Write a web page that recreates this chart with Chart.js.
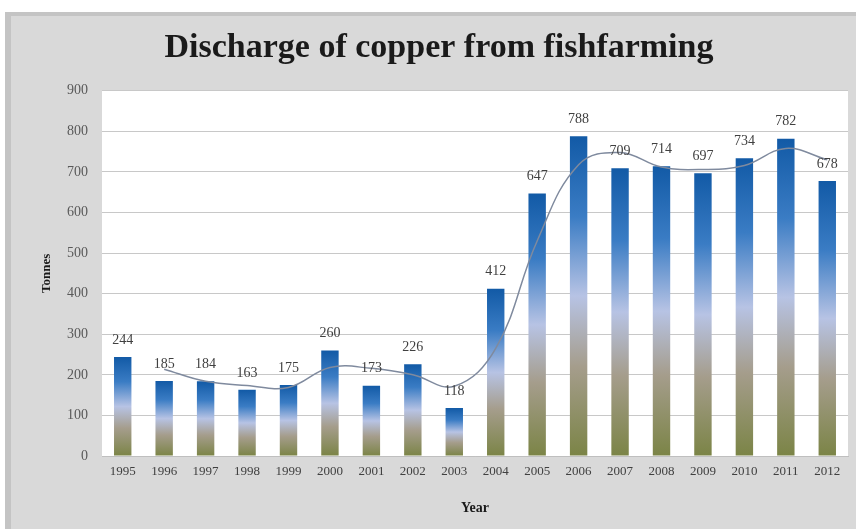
<!DOCTYPE html>
<html>
<head>
<meta charset="utf-8">
<script src="https://cdn.jsdelivr.net/npm/chart.js@4/dist/chart.umd.min.js"></script>
<style>
    html, body { margin: 0; padding: 0; background: #ffffff; }
    #wrap { width: 856px; height: 529px; position: relative; }
</style>
</head>
<body>
<div id="wrap"><canvas id="copperChart" width="856" height="529"></canvas></div>
<script>
// Data
const years = ['1995', '1996', '1997', '1998', '1999', '2000', '2001', '2002', '2003',
    '2004', '2005', '2006', '2007', '2008', '2009', '2010', '2011', '2012'];
const tonnes = [244, 185, 184, 163, 175, 260, 173, 226, 118,
    412, 647, 788, 709, 714, 697, 734, 782, 678];
// trend line (2 period moving average as drawn in the picture)
const trend = [null, 214, 184, 174, 169, 218, 216, 200, 172,
    265, 530, 718, 748, 712, 706, 716, 758, 730];

const serif = "'Liberation Serif', 'DejaVu Serif', serif";

// Background frame + white plot area
const framePlugin = {
    id: 'frame',
    beforeDraw(chart) {
        const ctx = chart.ctx;
        const a = chart.chartArea;
        ctx.save();
        ctx.fillStyle = '#ffffff';
        ctx.fillRect(0, 0, chart.width, chart.height);
        ctx.fillStyle = '#d9d9d9';
        ctx.fillRect(5, 12, chart.width - 5, chart.height - 12);
        ctx.fillStyle = '#c4c4c4';
        ctx.fillRect(5, 12, 6, chart.height - 12);
        ctx.fillRect(5, 12, chart.width - 5, 4);
        ctx.fillStyle = '#ffffff';
        ctx.fillRect(a.left, a.top, a.right - a.left, a.bottom - a.top);
        ctx.restore();
    }
};

// Value labels above each bar
const valueLabels = {
    id: 'valueLabels',
    afterDatasetsDraw(chart) {
        const ctx = chart.ctx;
        const meta = chart.getDatasetMeta(0);
        ctx.save();
        ctx.font = '14px ' + serif;
        ctx.fillStyle = '#404040';
        ctx.textAlign = 'center';
        ctx.textBaseline = 'bottom';
        meta.data.forEach((bar, i) => {
            ctx.fillText(tonnes[i], bar.x, bar.y - 10);
        });
        ctx.restore();
    }
};

function barGradient(context) {
    const chart = context.chart;
    if (!chart.chartArea) return '#1f63ab';
    const yScale = chart.scales.y;
    const v = context.raw;
    const top = yScale.getPixelForValue(v);
    const bottom = yScale.getPixelForValue(0);
    const g = chart.ctx.createLinearGradient(0, top, 0, bottom);
    g.addColorStop(0, '#125aa6');
    g.addColorStop(0.25, '#3a7cc4');
    g.addColorStop(0.5, '#b7c3e4');
    g.addColorStop(0.72, '#a59d8c');
    g.addColorStop(1, '#7b8446');
    return g;
}

const ctx = document.getElementById('copperChart').getContext('2d');
const chart = new Chart(ctx, {
    type: 'bar',
    data: {
        labels: years,
        datasets: [
            {
                label: 'Tonnes',
                data: tonnes,
                backgroundColor: barGradient,
                borderWidth: 0,
                barPercentage: 0.42,
                categoryPercentage: 1.0,
                order: 2
            },
            {
                type: 'line',
                label: 'Trend',
                data: trend,
                borderColor: '#7f8a9e',
                borderWidth: 1.5,
                tension: 0.4,
                pointRadius: 0,
                fill: false,
                order: 1
            }
        ]
    },
    options: {
        responsive: false,
        animation: false,
        layout: {
            padding: { left: 30, right: 8, top: 0, bottom: 8 }
        },
        plugins: {
            legend: { display: false },
            tooltip: { enabled: false },
            title: {
                display: true,
                text: 'Discharge of copper from fishfarming',
                color: '#1a1a1a',
                font: { family: serif, size: 34, weight: 'bold' },
                padding: { top: 28, bottom: 22 }
            }
        },
        scales: {
            y: {
                min: 0,
                max: 900,
                ticks: {
                    stepSize: 100,
                    color: '#595959',
                    font: { family: serif, size: 14 },
                    padding: 14
                },
                grid: {
                    color: '#c8c8c8',
                    drawTicks: false
                },
                border: { display: false },
                title: {
                    display: true,
                    text: 'Tonnes',
                    color: '#1a1a1a',
                    font: { family: serif, size: 13, weight: 'bold' },
                    padding: { top: 9, bottom: 0 }
                },
                afterFit(scale) { scale.width = 72; }
            },
            x: {
                ticks: {
                    color: '#404040',
                    font: { family: serif, size: 13 },
                    maxRotation: 0,
                    autoSkip: false,
                    padding: 0
                },
                grid: {
                    display: false,
                    drawTicks: true
                },
                border: { color: '#bfbfbf' },
                title: {
                    display: true,
                    text: 'Year',
                    color: '#1a1a1a',
                    font: { family: serif, size: 14, weight: 'bold' },
                    padding: { top: 12 }
                },
                afterFit(scale) { scale.height = 65; }
            }
        }
    },
    plugins: [framePlugin, valueLabels]
});
</script>
</body>
</html>
